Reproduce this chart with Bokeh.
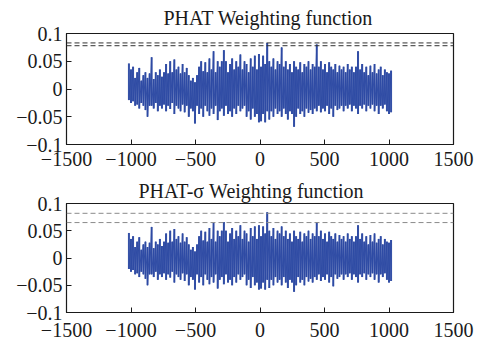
import numpy as np
from bokeh.plotting import figure
from bokeh.models import Span, FixedTicker
from bokeh.layouts import column
from bokeh.embed import file_html
from bokeh.resources import INLINE

# ---------------- data ----------------
x_first = -1024
x_last = 1023
x_ticks = [-1500, -1000, -500, 0, 500, 1000, 1500]
x_tick_labels = ["\u22121500", "\u22121000", "\u2212500", "0", "500", "1000", "1500"]
y_ticks = [-0.1, -0.05, 0, 0.05, 0.1]
y_tick_labels = ["\u22120.1", "\u22120.05", "0", "0.05", "0.1"]

titles = ["PHAT Weighting function", "PHAT-\u03c3 Weighting function"]

# upper / lower excursions of the correlation signal, read left to right
phat_hi = [
    0.046, 0.035, 0.040, 0.020, 0.030, 0.038, 0.015, 0.025, 0.030, 0.020,
    0.028, 0.057, 0.018, 0.030, 0.025, 0.035, 0.022, 0.030, 0.045, 0.028,
    0.050, 0.030, 0.053, 0.035, 0.040, 0.028, 0.045, 0.030, 0.038, 0.025,
    0.015, 0.020, 0.012, 0.025, 0.040, 0.050, 0.032, 0.048, 0.030, 0.055,
    0.035, 0.068, 0.030, 0.050, 0.040, 0.050, 0.070, 0.050, 0.030, 0.045,
    0.055, 0.035, 0.050, 0.040, 0.062, 0.035, 0.050, 0.045, 0.030, 0.055,
    0.040, 0.060, 0.035, 0.063, 0.040, 0.060, 0.045, 0.083, 0.050, 0.040,
    0.055, 0.035, 0.050, 0.045, 0.075, 0.040, 0.050, 0.035, 0.045, 0.030,
    0.050, 0.040, 0.035, 0.048, 0.030, 0.045, 0.040, 0.050, 0.035, 0.045,
    0.040, 0.080, 0.040, 0.050, 0.035, 0.045, 0.030, 0.048, 0.040, 0.035,
    0.045, 0.030, 0.042, 0.035, 0.040, 0.030, 0.045, 0.035, 0.040, 0.030,
    0.040, 0.068, 0.035, 0.045, 0.030, 0.040, 0.025, 0.042, 0.030, 0.045,
    0.028, 0.035, 0.040, 0.025, 0.035, 0.030, 0.028, 0.033,
]
phat_lo = [
    -0.020, -0.025, -0.022, -0.030, -0.028, -0.035, -0.025, -0.030, -0.038, -0.050,
    -0.030, -0.030, -0.035, -0.025, -0.040, -0.030, -0.035, -0.028, -0.040, -0.030,
    -0.036, -0.025, -0.045, -0.030, -0.035, -0.040, -0.028, -0.042, -0.030, -0.050,
    -0.035, -0.040, -0.062, -0.030, -0.045, -0.035, -0.050, -0.030, -0.040, -0.048,
    -0.035, -0.045, -0.030, -0.056, -0.040, -0.035, -0.048, -0.030, -0.045, -0.040,
    -0.050, -0.035, -0.045, -0.030, -0.040, -0.035, -0.030, -0.050, -0.040, -0.055,
    -0.035, -0.050, -0.045, -0.060, -0.058, -0.045, -0.060, -0.040, -0.055, -0.040,
    -0.050, -0.035, -0.045, -0.040, -0.050, -0.035, -0.045, -0.055, -0.040, -0.045,
    -0.068, -0.050, -0.035, -0.045, -0.040, -0.050, -0.035, -0.043, -0.038, -0.045,
    -0.035, -0.040, -0.030, -0.042, -0.035, -0.040, -0.030, -0.045, -0.035, -0.050,
    -0.030, -0.038, -0.035, -0.030, -0.040, -0.030, -0.035, -0.028, -0.040, -0.030,
    -0.035, -0.045, -0.030, -0.035, -0.028, -0.040, -0.030, -0.035, -0.028, -0.040,
    -0.030, -0.045, -0.030, -0.035, -0.028, -0.040, -0.045, -0.042,
]
phat_thresholds = [0.083, 0.078]

sigma_hi = [
    0.046, 0.035, 0.040, 0.020, 0.030, 0.038, 0.015, 0.025, 0.030, 0.020,
    0.028, 0.057, 0.018, 0.030, 0.025, 0.035, 0.022, 0.030, 0.045, 0.028,
    0.050, 0.030, 0.053, 0.035, 0.040, 0.028, 0.045, 0.030, 0.038, 0.025,
    0.015, 0.020, 0.012, 0.025, 0.040, 0.050, 0.032, 0.048, 0.030, 0.055,
    0.035, 0.064, 0.030, 0.050, 0.040, 0.050, 0.066, 0.050, 0.030, 0.045,
    0.055, 0.035, 0.050, 0.040, 0.060, 0.035, 0.050, 0.045, 0.030, 0.055,
    0.040, 0.058, 0.035, 0.060, 0.040, 0.058, 0.045, 0.084, 0.050, 0.040,
    0.055, 0.035, 0.050, 0.045, 0.058, 0.040, 0.050, 0.035, 0.045, 0.030,
    0.050, 0.040, 0.035, 0.048, 0.030, 0.045, 0.040, 0.050, 0.035, 0.045,
    0.040, 0.066, 0.040, 0.050, 0.035, 0.045, 0.030, 0.048, 0.040, 0.035,
    0.045, 0.030, 0.042, 0.035, 0.040, 0.030, 0.045, 0.035, 0.040, 0.030,
    0.040, 0.060, 0.035, 0.045, 0.030, 0.040, 0.025, 0.042, 0.030, 0.045,
    0.028, 0.035, 0.040, 0.025, 0.035, 0.030, 0.028, 0.033,
]
sigma_lo = [
    -0.020, -0.025, -0.022, -0.030, -0.028, -0.035, -0.025, -0.030, -0.038, -0.050,
    -0.030, -0.030, -0.035, -0.025, -0.040, -0.030, -0.035, -0.028, -0.040, -0.030,
    -0.036, -0.025, -0.045, -0.030, -0.035, -0.040, -0.028, -0.042, -0.030, -0.050,
    -0.035, -0.040, -0.058, -0.030, -0.045, -0.035, -0.050, -0.030, -0.040, -0.048,
    -0.035, -0.045, -0.030, -0.056, -0.040, -0.035, -0.048, -0.030, -0.045, -0.040,
    -0.050, -0.035, -0.045, -0.030, -0.040, -0.035, -0.030, -0.050, -0.040, -0.055,
    -0.035, -0.050, -0.045, -0.058, -0.056, -0.045, -0.058, -0.040, -0.055, -0.040,
    -0.050, -0.035, -0.045, -0.040, -0.050, -0.035, -0.045, -0.055, -0.040, -0.045,
    -0.062, -0.050, -0.035, -0.045, -0.040, -0.050, -0.035, -0.043, -0.038, -0.045,
    -0.035, -0.040, -0.030, -0.042, -0.035, -0.040, -0.030, -0.045, -0.035, -0.052,
    -0.030, -0.038, -0.035, -0.030, -0.040, -0.030, -0.035, -0.028, -0.040, -0.030,
    -0.035, -0.045, -0.030, -0.035, -0.028, -0.040, -0.030, -0.035, -0.028, -0.040,
    -0.030, -0.045, -0.030, -0.035, -0.028, -0.040, -0.045, -0.042,
]
sigma_thresholds = [0.082, 0.065]

# ---------------- styling ----------------
FONT = "Liberation Serif"
INK = "#1a1a1a"
SIGNAL = "#2c49a3"


def make_panel(title, title_offset, title_standoff, title_valign, hi, lo, thresholds,
               thr_color, height, mb_top, mb_bottom, x_standoff):
    p = figure(width=478, height=height, x_range=(-1500, 1500), y_range=(-0.1, 0.1),
               output_backend="svg", toolbar_location=None, title=title,
               min_border_left=66, min_border_right=25, min_border_top=mb_top,
               min_border_bottom=mb_bottom)
    p.title.align = "left"
    p.title.offset = title_offset
    p.title.standoff = title_standoff
    p.title.vertical_align = title_valign
    p.title.text_font = FONT
    p.title.text_font_size = "20px"
    p.title.text_font_style = "normal"
    p.title.text_color = INK

    # signal: one vertical stroke per column of samples, from its low to its high
    xs = np.linspace(x_first + 8, x_last - 7, len(hi))
    p.segment(x0=xs, y0=lo, x1=xs, y1=hi, line_color=SIGNAL, line_width=2.0,
              line_alpha=0.9)
    p.line(np.repeat(xs, 2), np.ravel(np.column_stack([hi, lo])),
           line_color=SIGNAL, line_width=1.0, line_alpha=0.9)

    for t in thresholds:
        p.add_layout(Span(location=t, dimension="width", line_color=thr_color,
                          line_width=1, line_dash="5 3"))

    p.xgrid.visible = False
    p.ygrid.visible = False
    p.outline_line_color = INK
    p.outline_line_width = 1.2
    p.background_fill_color = "white"
    p.border_fill_color = "white"

    p.xaxis.ticker = FixedTicker(ticks=x_ticks)
    p.xaxis.major_label_overrides = dict(zip(x_ticks, x_tick_labels))
    p.yaxis.ticker = FixedTicker(ticks=y_ticks)
    p.yaxis.major_label_overrides = dict(zip(y_ticks, y_tick_labels))

    for ax in (p.xaxis[0], p.yaxis[0]):
        ax.axis_line_color = INK
        ax.major_tick_line_color = INK
        ax.major_tick_in = 5
        ax.major_tick_out = 0
        ax.minor_tick_line_color = None
        ax.major_label_text_font = FONT
        ax.major_label_text_font_size = "20px"
        ax.major_label_text_color = INK
    p.xaxis.major_label_standoff = x_standoff
    p.yaxis.major_label_standoff = 4
    return p


p1 = make_panel(titles[0], 97, 6, "top", phat_hi, phat_lo, phat_thresholds, "#333333",
                174, 33, 30, 7)
p2 = make_panel(titles[1], 72, 4, "bottom", sigma_hi, sigma_lo, sigma_thresholds, "#8a8a8a",
                171, 29, 33, 10)

layout = column(p1, p2)
open("out.html", "w").write(file_html(layout, INLINE))
